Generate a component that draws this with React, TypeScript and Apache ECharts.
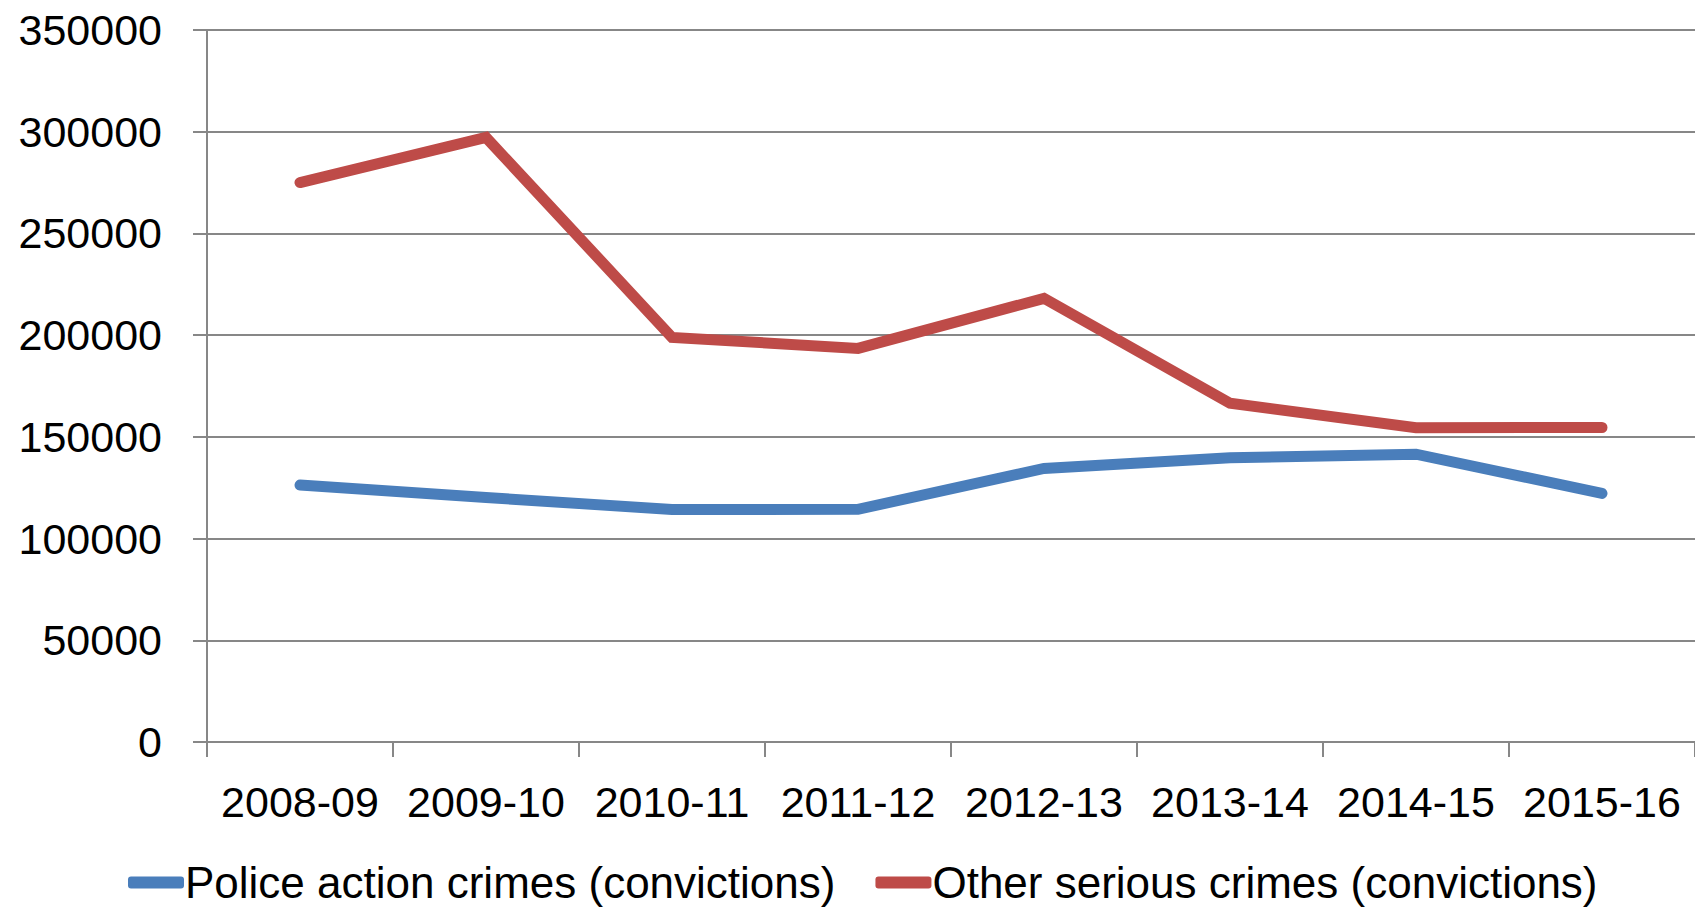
import React, { useEffect, useRef } from "react";
import * as echarts from "echarts";

const categories = ["2008-09", "2009-10", "2010-11", "2011-12", "2012-13", "2013-14", "2014-15", "2015-16"];
const policeAction = [126300, 120200, 114300, 114400, 134500, 139700, 141500, 122200];
const otherSerious = [275000, 297200, 198900, 193500, 218100, 166500, 154500, 154600];
const yTicks = { min: 0, max: 350000, interval: 50000 };

const FONT = "Liberation Sans";

export default function App() {
  const ref = useRef<HTMLDivElement>(null);
  useEffect(() => {
    if (!ref.current) return;
    const chart = echarts.init(ref.current, null, { renderer: "svg" });
    chart.setOption({
      animation: false,
      backgroundColor: "#ffffff",
      textStyle: { fontFamily: FONT },
      grid: { left: 207, right: 0, top: 30, bottom: 167, containLabel: false },
      legend: {
        left: 128,
        top: 859,
        padding: 0,
        icon: "roundRect",
        itemWidth: 56,
        itemHeight: 12,
        itemGap: 40,
        textStyle: { fontSize: 44, lineHeight: 47, color: "#000", fontFamily: FONT, padding: [0, 0, 0, -4] },
        data: ["Police action crimes (convictions)", "Other serious crimes (convictions)"],
      },
      xAxis: {
        type: "category",
        data: categories,
        boundaryGap: true,
        axisLine: { show: true, lineStyle: { color: "#878787", width: 2 } },
        axisTick: { show: true, length: 15, inside: false, alignWithLabel: false, lineStyle: { color: "#878787", width: 2 } },
        axisLabel: { fontSize: 43, color: "#000", margin: 38, fontFamily: FONT, interval: 0 },
        splitLine: { show: false },
      },
      yAxis: {
        type: "value",
        min: yTicks.min,
        max: yTicks.max,
        interval: yTicks.interval,
        axisLine: { show: true, lineStyle: { color: "#878787", width: 2 } },
        axisTick: { show: true, length: 14, inside: false, lineStyle: { color: "#878787", width: 2 } },
        axisLabel: { fontSize: 43, color: "#000", margin: 45, fontFamily: FONT, formatter: (v: number) => String(v) },
        splitLine: { show: true, lineStyle: { color: "#878787", width: 2 } },
      },
      series: [
        {
          name: "Police action crimes (convictions)",
          type: "line",
          data: policeAction,
          showSymbol: false,
          symbol: "none",
          color: "#4A7EBB",
          lineStyle: { width: 11, color: "#4A7EBB", cap: "round", join: "miter" },
        },
        {
          name: "Other serious crimes (convictions)",
          type: "line",
          data: otherSerious,
          showSymbol: false,
          symbol: "none",
          color: "#BE4B48",
          lineStyle: { width: 11, color: "#BE4B48", cap: "round", join: "miter" },
        },
      ],
    });
    return () => chart.dispose();
  }, []);
  return (
    <div
      ref={ref}
      style={{ position: "fixed", left: 0, top: 0, width: "1695px", height: "909px" }}
    />
  );
}
